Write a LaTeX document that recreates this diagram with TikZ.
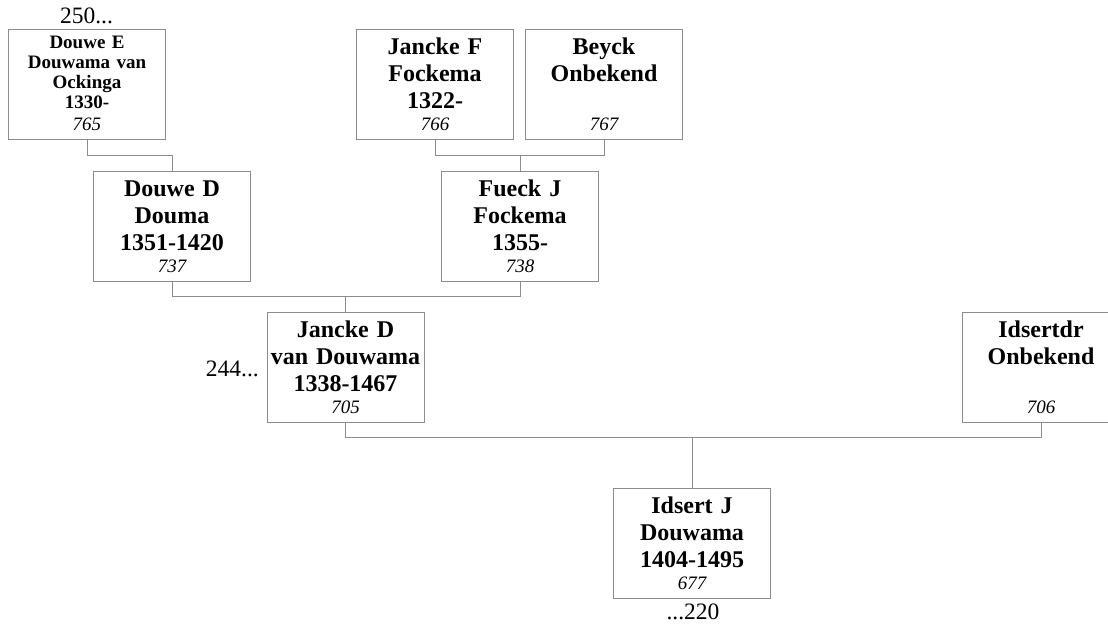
\documentclass[tikz,border=0pt]{standalone}
\usepackage{fontspec}
\setmainfont{Liberation Serif}
\definecolor{linegray}{RGB}{140,140,140}
\begin{document}
\begin{tikzpicture}[x=1pt,y=-1pt,
  person/.style={draw=linegray, line width=1pt, anchor=north, inner sep=0pt,
    minimum width=157pt, minimum height=110pt, text width=157pt, align=center,
    text height=16pt, text depth=76pt,
    font=\fontsize{24}{27}\selectfont\bfseries},
  smallperson/.style={person, text height=10.1pt, text depth=82.7pt,
    font=\fontsize{19}{20}\selectfont\bfseries},
  conn/.style={draw=linegray, line width=1pt},
  lbl/.style={inner sep=0pt, font=\fontsize{23.5}{28}\selectfont},
]
\useasboundingbox (0,0) rectangle (1108,626);
\clip (0,0) rectangle (1108,626);
\newcommand{\pnum}[1]{{\mdseries\itshape\fontsize{19}{27}\selectfont #1}}

% row 1
\node[smallperson] (p765) at (87,29) {Douwe E\\Douwama van\\Ockinga\\1330-\\[2.7pt]\pnum{765}};
\node[person] (p766) at (435,29) {Jancke F\\Fockema\\1322-\\[-5pt]\pnum{766}};
\node[person] (p767) at (604,29) {Beyck\\Onbekend\\\mbox{}\\[-5pt]\pnum{767}};
% row 2
\node[person] (p737) at (172,171) {Douwe D\\Douma\\1351-1420\\[-5pt]\pnum{737}};
\node[person] (p738) at (520,171) {Fueck J\\Fockema\\1355-\\[-5pt]\pnum{738}};
% row 3
\node[person] (p705) at (345.5,312) {Jancke D\\van Douwama\\1338-1467\\[-5pt]\pnum{705}};
\node[person] (p706) at (1041,312) {Idsertdr\\Onbekend\\\mbox{}\\[-5pt]\pnum{706}};
% row 4
\node[person] (p677) at (692,488) {Idsert J\\Douwama\\1404-1495\\[-5pt]\pnum{677}};

% labels
\node[lbl, anchor=base] (l250) at (86.5,24) {250...};
\node[lbl, anchor=base east] (l244) at (259,376) {244...};
\node[lbl, anchor=base] (l220) at (693,619) {...220};

% junction levels
\coordinate (m1) at (0,155);
\coordinate (m2) at (0,296);
\coordinate (m3) at (0,437);

% connectors
\draw[conn] (p765.south) -- (p765.south |- m1) -- (p737.north |- m1) -- (p737.north);
\draw[conn] (p766.south) -- (p766.south |- m1) -- (p767.south |- m1) -- (p767.south);
\draw[conn] (p738.north |- m1) -- (p738.north);
\draw[conn] (p737.south) -- (p737.south |- m2) -- (p738.south |- m2) -- (p738.south);
\draw[conn] (p705.north |- m2) -- (p705.north);
\draw[conn] (p705.south) -- (p705.south |- m3) -- (p706.south |- m3) -- (p706.south);
\draw[conn] (p677.north |- m3) -- (p677.north);
\end{tikzpicture}
\end{document}
